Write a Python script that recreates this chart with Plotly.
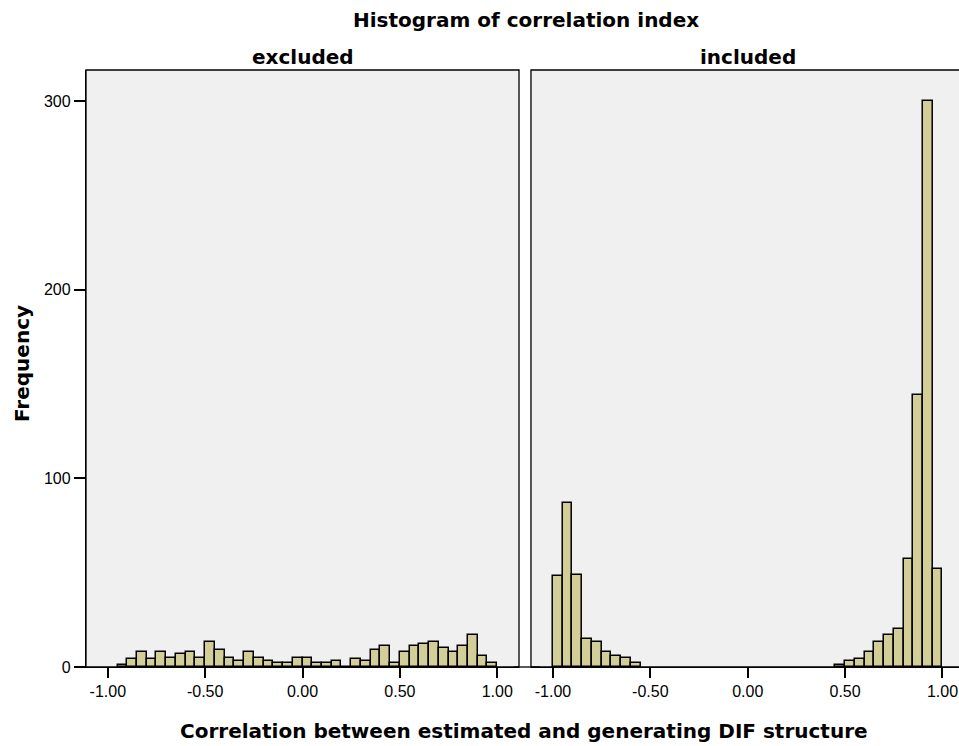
import plotly.graph_objects as go

# ---- data (bin lower edges, bin width 0.05) ----
excluded_bin_start = [-0.95, -0.90, -0.85, -0.80, -0.75, -0.70, -0.65, -0.60, -0.55, -0.50,
                      -0.45, -0.40, -0.35, -0.30, -0.25, -0.20, -0.15, -0.10, -0.05, 0.00,
                      0.05, 0.10, 0.15, 0.20, 0.25, 0.30, 0.35, 0.40, 0.45, 0.50,
                      0.55, 0.60, 0.65, 0.70, 0.75, 0.80, 0.85, 0.90, 0.95]
excluded_freq = [1, 4, 8, 4, 8, 5, 7, 8, 5, 13,
                 9, 5, 3, 8, 5, 3, 2, 2, 5, 5,
                 2, 2, 3, 0, 4, 3, 9, 11, 2, 8,
                 11, 12, 13, 10, 8, 11, 17, 6, 2]

included_bin_start = [-1.00, -0.95, -0.90, -0.85, -0.80, -0.75, -0.70, -0.65, -0.60,
                      0.45, 0.50, 0.55, 0.60, 0.65, 0.70, 0.75, 0.80, 0.85, 0.90, 0.95]
included_freq = [48, 87, 49, 15, 13, 8, 6, 5, 2,
                 1, 3, 4, 8, 13, 17, 20, 57, 144, 300, 52]

bin_width = 0.05
x_tickvals = [-1.0, -0.5, 0.0, 0.5, 1.0]
x_ticktext = ["-1.00", "-0.50", "0.00", "0.50", "1.00"]
y_tickvals = [0, 100, 200, 300]
panel_titles = ["excluded", "included"]

title_text = "Histogram of correlation index"
x_title = "Correlation between estimated and generating DIF structure"
y_title = "Frequency"

bar_fill = "rgb(211,206,151)"
panel_bg = "#F0F0F0"
tick_font = dict(family="Liberation Sans, Arial, sans-serif", size=16, color="black")
bold_font = dict(family="DejaVu Sans, sans-serif", size=20, color="black", weight="bold")

fig = go.Figure()
fig.add_trace(go.Bar(x=excluded_bin_start, y=excluded_freq, width=bin_width, offset=0,
                     marker=dict(color=bar_fill, line=dict(color="black", width=1.5)),
                     xaxis="x", yaxis="y", showlegend=False))
fig.add_trace(go.Bar(x=included_bin_start, y=included_freq, width=bin_width, offset=0,
                     marker=dict(color=bar_fill, line=dict(color="black", width=1.5)),
                     xaxis="x2", yaxis="y2", showlegend=False))

common_x = dict(tickvals=x_tickvals, ticktext=x_ticktext, ticks="outside", ticklen=10,
                tickwidth=1.5, tickcolor="black", showline=True, linecolor="black",
                linewidth=1.3, showgrid=False, zeroline=False, tickfont=tick_font)

fig.update_layout(
    width=959, height=746,
    margin=dict(l=86, r=0, t=70, b=79),
    paper_bgcolor="white", plot_bgcolor="rgba(0,0,0,0)",
    bargap=0,
    xaxis=dict(domain=[0, 0.496], range=[-1.112, 1.112], anchor="y", **common_x),
    xaxis2=dict(domain=[0.5097, 1], range=[-1.113, 1.085], anchor="y2", **common_x),
    yaxis=dict(domain=[0, 1], range=[0, 316.4], tickvals=y_tickvals, ticks="outside",
               ticklen=11, tickwidth=1.5, tickcolor="black", showline=True,
               linecolor="black", linewidth=1.3, showgrid=False, zeroline=False,
               tickfont=tick_font, anchor="x"),
    yaxis2=dict(domain=[0, 1], range=[0, 316.4], showticklabels=False, ticks="",
                showline=False, showgrid=False, zeroline=False, anchor="x2"),
    shapes=[
        dict(type="rect", xref="x domain", yref="y domain", x0=0, x1=1, y0=0, y1=1,
             fillcolor=panel_bg, line=dict(color="black", width=1.3), layer="below"),
        dict(type="rect", xref="x2 domain", yref="y domain", x0=0, x1=1.05, y0=0, y1=1,
             fillcolor=panel_bg, line=dict(color="black", width=1.3), layer="below"),
        dict(type="line", xref="paper", yref="paper", x0=0.49, x1=0.52, y0=0, y1=0,
             line=dict(color="black", width=1.3)),
    ],
    annotations=[
        dict(text=title_text, xref="paper", yref="paper", x=0.504, y=1, yshift=50,
             xanchor="center", yanchor="middle", showarrow=False, font=bold_font),
        dict(text=panel_titles[0], xref="x", yref="paper", x=0.0, y=1, yshift=13,
             xanchor="center", yanchor="middle", showarrow=False, font=bold_font),
        dict(text=panel_titles[1], xref="x2", yref="paper", x=0.0, y=1, yshift=13,
             xanchor="center", yanchor="middle", showarrow=False, font=bold_font),
        dict(text=x_title, xref="paper", yref="paper", x=0.5017, y=0, yshift=-64,
             xanchor="center", yanchor="middle", showarrow=False, font=bold_font),
        dict(text=y_title, xref="paper", yref="paper", x=0, xshift=-64, y=0.5075,
             xanchor="center", yanchor="middle", textangle=-90, showarrow=False,
             font=bold_font),
    ],
)

fig.write_html("out.html", config={"displayModeBar": False},
               post_script="document.body.style.margin='0px';")
